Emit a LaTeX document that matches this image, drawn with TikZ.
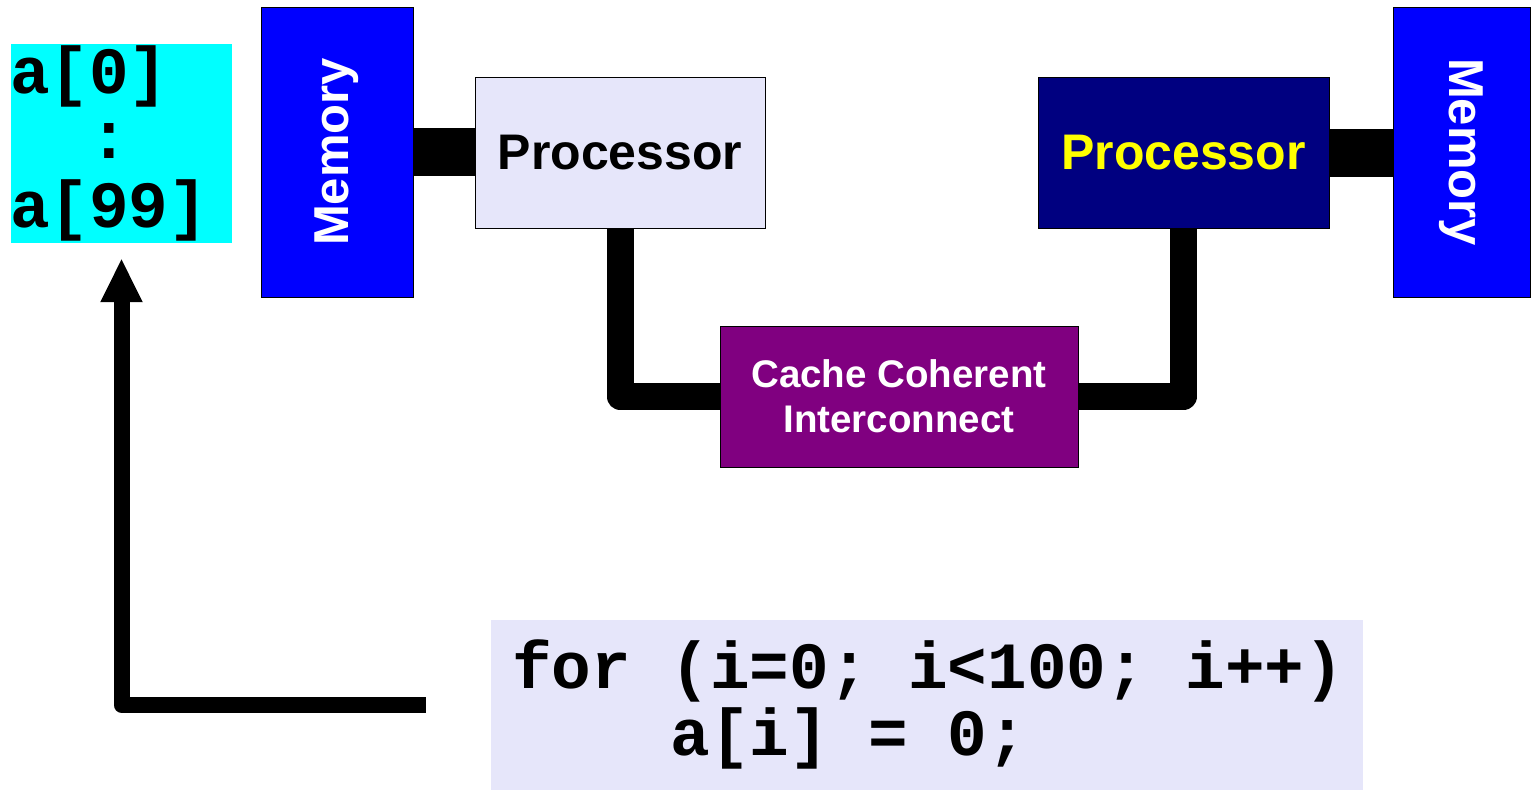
\documentclass[tikz,border=0pt]{standalone}
\usepackage{fontspec}
\setmainfont{Liberation Sans}
\newfontfamily\codefont{Liberation Mono}
\usetikzlibrary{arrows.meta,backgrounds}
\definecolor{lav}{RGB}{230,230,250}
\definecolor{memblue}{RGB}{0,0,255}
\definecolor{navyc}{RGB}{0,0,128}
\definecolor{purp}{RGB}{128,0,128}
\definecolor{cyanc}{RGB}{0,255,255}
\definecolor{yel}{RGB}{255,255,0}
\begin{document}
\frenchspacing
\begin{tikzpicture}[x=1pt,y=-1pt,
  box/.style={rectangle, draw=black, line width=1pt, inner sep=0pt},
  memstyle/.style={box, fill=memblue, minimum height=290pt, text=white,
    font=\bfseries\fontsize{49}{58}\selectfont},
  procstyle/.style={box, minimum width=290pt, minimum height=151pt,
    font=\bfseries\fontsize{50}{58}\selectfont},
  ccistyle/.style={box, fill=purp, text=white, minimum width=358pt, minimum height=141pt,
    align=center, font=\bfseries\fontsize{38.5}{45}\selectfont},
  plain/.style={rectangle, inner sep=0pt},
  codetext/.style={inner sep=0pt, anchor=base west, font=\codefont\bfseries\fontsize{66}{67}\selectfont},
  bus/.style={line width=48pt, draw=black},
  link/.style={line width=27pt, draw=black, line join=round},
  pointer/.style={line width=16pt, draw=black, line join=round,
    -{Triangle[length=44pt,width=39pt]}}
]
\useasboundingbox (0,0) rectangle (1532,790);

% array box
\node[plain, fill=cyanc, minimum width=221pt, minimum height=199pt] (arr) at (121.5,143.5) {};
\node[codetext] (a0) at (10,93) {a[0]};
\node[codetext] (dots) at (89.2,158) {:};
\node[codetext] (a99) at (10,227) {a[99]};

% memories and processors
\node[memstyle, minimum width=152pt] (memL) at (337,152) {\rotatebox{90}{Memory}};
\node[procstyle, fill=lav, text=black] (procL) at (620,152.5) {Processor};
\node[procstyle, fill=navyc, text=yel, minimum width=291pt] (procR) at (1183.5,152.5) {Processor};
\node[memstyle, minimum width=137pt] (memR) at (1461.5,152) {\rotatebox{-90}{Memory}};

% interconnect
\node[ccistyle] (cci) at (899,396.5) {Cache Coherent\\Interconnect};

% code box
\node[plain, fill=lav, minimum width=872pt, minimum height=170pt] (code) at (927,705) {};
\node[codetext] (line1) at (512,688) {for~(i=0;~i<100;~i++)};
\node[codetext] (line2) at (670.4,755) {a[i]~=~0;};

\begin{pgfonlayer}{background}
\draw[bus] (memL.east) -- (memL.east -| procL.west);
\draw[bus] (procR.east) -- (procR.east -| memR.west);
\draw[link] (procL.south) |- (cci.west);
\draw[link] (cci.east) -| (procR.south);
\end{pgfonlayer}

\draw[pointer, shorten <=65pt, shorten >=15pt] (code.west) -| (arr.south);
\end{tikzpicture}
\end{document}
